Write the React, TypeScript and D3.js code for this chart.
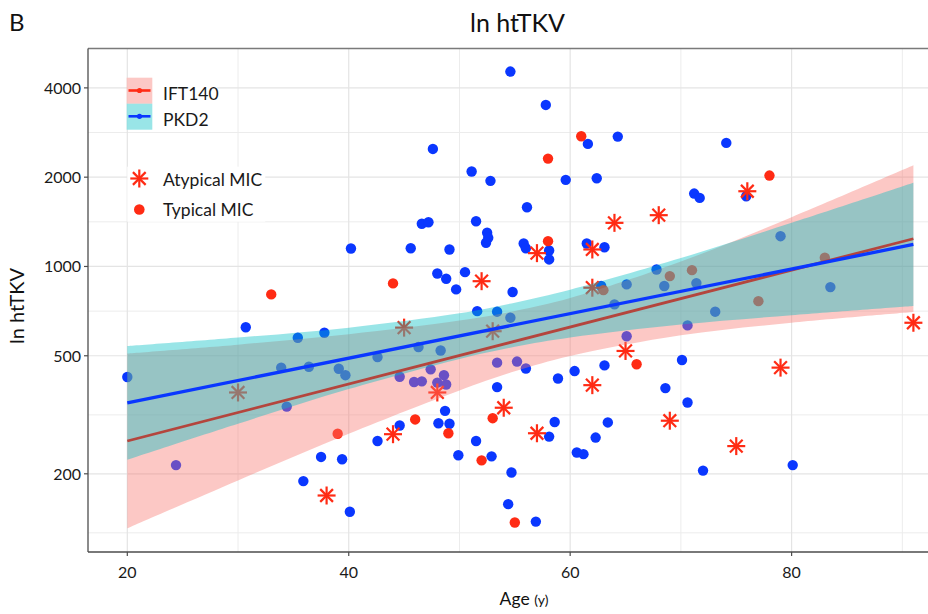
import React from "react";
import * as d3 from "d3";

const W = 928;
const H = 614;

// Axis ticks
const xTicks = [20, 40, 60, 80];
const xMinor = [30, 50, 70, 90];
const yTicks = [200, 500, 1000, 2000, 4000];
const yMinor = [126.5, 316, 707, 1414, 2828];

// PKD2 (blue points)
const pkd2Age = [54.6, 47.6, 51.1, 52.8, 46.6, 47.2, 51.5, 52.5, 52.6, 52.4, 40.2, 45.6, 49.1, 48.0, 48.8, 50.5, 49.7, 57.8, 61.6, 64.3, 74.1, 59.6, 62.4, 71.2, 71.7, 75.9, 56.1, 55.8, 56.0, 58.1, 58.1, 61.5, 63.1, 54.8, 62.8, 65.1, 68.5, 71.4, 67.8, 79.0, 83.5, 53.4, 54.6, 64.0, 73.1, 70.6, 65.1, 53.4, 55.2, 56.0, 70.1, 63.1, 60.4, 58.9, 53.4, 68.6, 70.6, 58.1, 58.6, 63.4, 62.3, 60.6, 61.2, 80.1, 72.0, 52.9, 54.7, 54.4, 56.9, 30.7, 35.4, 37.8, 20.0, 24.4, 33.9, 36.4, 34.4, 39.1, 39.7, 42.6, 46.3, 48.3, 51.6, 47.4, 44.6, 45.9, 46.6, 48.6, 48.0, 48.8, 48.7, 44.6, 48.1, 49.1, 42.6, 37.5, 39.4, 49.9, 51.5, 35.9, 40.1];
const pkd2Val = [4540, 2490, 2090, 1944, 1393, 1410, 1421, 1299, 1249, 1202, 1150, 1152, 1141, 947, 909, 957, 837, 3504, 2589, 2740, 2610, 1959, 1983, 1761, 1703, 1725, 1584, 1195, 1152, 1132, 1056, 1195, 1161, 820, 859, 870, 859, 879, 977, 1265, 852, 704, 672, 745, 704, 633, 582, 474, 478, 453, 484, 464, 444, 419, 392, 389, 348, 267, 299, 298, 265, 236, 233, 214, 205, 229, 202, 158, 138, 624, 575, 598, 424, 214, 456, 459, 337, 452, 430, 495, 535, 521, 707, 450, 425, 408, 410, 430, 406, 400, 326, 291, 296, 295, 258, 228, 224, 231, 258, 189, 149];

// IFT140 typical MIC (red dots)
const typAge = [33.0, 44.0, 61.0, 58.0, 78.0, 58.0, 63.0, 69.0, 71.0, 83.0, 77.0, 66.0, 53.0, 52.0, 55.0, 39.0, 46.0, 49.0];
const typVal = [805, 877, 2747, 2310, 2025, 1217, 832, 928, 972, 1070, 764, 468, 308, 222, 137, 273, 305, 274];

// IFT140 atypical MIC (red asterisks)
const atyAge = [52.0, 76.0, 68.0, 64.0, 57.0, 62.0, 62.0, 53.0, 91.0, 65.0, 79.0, 62.0, 54.0, 57.0, 69.0, 75.0, 30.0, 45.0, 48.0, 44.0, 38.0];
const atyVal = [892, 1793, 1489, 1403, 1109, 1141, 848, 605, 646, 519, 456, 398, 334, 274, 302, 248, 376, 622, 376, 272, 169];

// Fitted lines and confidence bands
const fitAges = [20, 30, 40, 50, 55, 60, 70, 80, 91];
const iftLower = [131, 190, 273, 382, 443, 499, 586, 646, 702];
const iftUpper = [509, 545, 591, 657, 708, 783, 1039, 1466, 2192];
const pkdLower = [223, 295, 386, 488, 536, 576, 637, 685, 736];
const pkdUpper = [539, 576, 622, 695, 755, 835, 1067, 1403, 1915];
const lineAges = [20, 91];
const iftLine = [258, 1240];
const pkdLine = [347, 1186];

const RED = "#ff2b14";
const BLUE = "#0a37ff";
const FONT = "Lato, 'Open Sans', sans-serif";

const L = 88, R = 952.7, T = 48.5, B = 552;

function Asterisk({ cx, cy, r, color }: { cx: number; cy: number; r: number; color: string }) {
  const d = r * Math.SQRT1_2;
  return (
    <g stroke={color} strokeWidth={2.2} strokeLinecap="butt">
      <line x1={cx} y1={cy - r} x2={cx} y2={cy + r} />
      <line x1={cx - r} y1={cy} x2={cx + r} y2={cy} />
      <line x1={cx - d} y1={cy - d} x2={cx + d} y2={cy + d} />
      <line x1={cx - d} y1={cy + d} x2={cx + d} y2={cy - d} />
    </g>
  );
}

export default function App() {
  const x = d3.scaleLinear().domain([16.45, 94.55]).range([L, R]);
  const y = d3.scaleLog().domain([109, 5430]).range([B, T]);

  const band = (lo: number[], hi: number[]) =>
    d3
      .area<number>()
      .x((_, i) => x(fitAges[i]))
      .y0((_, i) => y(lo[i]))
      .y1((_, i) => y(hi[i]))
      .curve(d3.curveCatmullRom)(fitAges.map((_, i) => i)) as string;

  const line = (vals: number[]) =>
    d3
      .line<number>()
      .x((_, i) => x(lineAges[i]))
      .y((d) => y(d))(vals) as string;

  return (
    <svg
      width={W}
      height={H}
      style={{ position: "absolute", left: 0, top: 0, background: "#fff" }}
      fontFamily={FONT}
    >
      <rect x={0} y={0} width={W} height={H} fill="#fff" />
      {/* grid */}
      <g>
        {yMinor.map((v) => (
          <line key={"ym" + v} x1={L} x2={R} y1={y(v)} y2={y(v)} stroke="#ececec" strokeWidth={1} />
        ))}
        {xMinor.map((v) => (
          <line key={"xm" + v} x1={x(v)} x2={x(v)} y1={T} y2={B} stroke="#ececec" strokeWidth={1} />
        ))}
        {yTicks.map((v) => (
          <line key={"yg" + v} x1={L} x2={R} y1={y(v)} y2={y(v)} stroke="#e4e4e4" strokeWidth={1.2} />
        ))}
        {xTicks.map((v) => (
          <line key={"xg" + v} x1={x(v)} x2={x(v)} y1={T} y2={B} stroke="#e4e4e4" strokeWidth={1.2} />
        ))}
      </g>

      {/* legend backgrounds */}
      <rect x={x(20)} y={77.7} width={90} height={52} fill="#fff" />
      <rect x={x(20)} y={166.7} width={138} height={55} fill="#fff" />

      {/* points */}
      <g>
        {pkd2Age.map((a, i) => (
          <circle key={"b" + i} cx={x(a)} cy={y(pkd2Val[i])} r={5.2} fill={BLUE} />
        ))}
        {typAge.map((a, i) => (
          <circle key={"r" + i} cx={x(a)} cy={y(typVal[i])} r={5.2} fill={RED} />
        ))}
        {atyAge.map((a, i) => (
          <Asterisk key={"a" + i} cx={x(a)} cy={y(atyVal[i])} r={9} color={RED} />
        ))}
      </g>

      {/* smooths */}
      <path d={band(iftLower, iftUpper)} fill="#F8766D" fillOpacity={0.4} />
      <path d={band(pkdLower, pkdUpper)} fill="#00BFC4" fillOpacity={0.4} />
      <path d={line(iftLine)} stroke="#b4453d" strokeWidth={2.8} fill="none" />
      <path d={line(pkdLine)} stroke={BLUE} strokeWidth={3.3} fill="none" />

      {/* panel border & axes */}
      <line x1={L} x2={R} y1={T} y2={T} stroke="#7a7a7a" strokeWidth={1.3} />
      <line x1={L} x2={L} y1={T} y2={B} stroke="#4d4d4d" strokeWidth={1.3} />
      <line x1={L} x2={R} y1={B} y2={B} stroke="#4d4d4d" strokeWidth={1.3} />
      {yTicks.map((v) => (
        <g key={"yt" + v}>
          <line x1={L - 4} x2={L} y1={y(v)} y2={y(v)} stroke="#4d4d4d" strokeWidth={1.2} />
          <text x={L - 7} y={y(v)} dy="0.36em" textAnchor="end" fontSize={16} fill="#1a1a1a">
            {v}
          </text>
        </g>
      ))}
      {xTicks.map((v) => (
        <g key={"xt" + v}>
          <line x1={x(v)} x2={x(v)} y1={B} y2={B + 4} stroke="#4d4d4d" strokeWidth={1.2} />
          <text x={x(v)} y={578} textAnchor="middle" fontSize={16} fill="#1a1a1a">
            {v}
          </text>
        </g>
      ))}

      {/* legend 1 */}
      <rect x={126.7} y={77.7} width={25.6} height={26} fill="#F8766D" fillOpacity={0.4} />
      <rect x={126.7} y={103.7} width={25.6} height={26} fill="#00BFC4" fillOpacity={0.4} />
      <line x1={128.5} x2={150.5} y1={90.5} y2={90.5} stroke={RED} strokeWidth={2.6} />
      <circle cx={139.5} cy={90.5} r={2.6} fill={RED} />
      <line x1={128.5} x2={150.5} y1={116.3} y2={116.3} stroke={BLUE} strokeWidth={2.6} />
      <circle cx={139.5} cy={116.3} r={2.6} fill={BLUE} />
      <text x={163} y={100} fontSize={17.5} fill="#1a1a1a">IFT140</text>
      <text x={163} y={126} fontSize={17.5} fill="#1a1a1a">PKD2</text>

      {/* legend 2 */}
      <Asterisk cx={139.3} cy={178.5} r={9} color={RED} />
      <circle cx={139.3} cy={209.5} r={5.3} fill={RED} />
      <text x={163} y={185.5} fontSize={17.5} fill="#1a1a1a">Atypical MIC</text>
      <text x={163} y={216} fontSize={17.5} fill="#1a1a1a">Typical MIC</text>

      {/* titles */}
      <text x={9} y={30.7} fontSize={24} fill="#111">B</text>
      <text x={517.5} y={32.3} textAnchor="middle" fontSize={25} fill="#111">
        ln htTKV
      </text>
      <text transform="translate(23.5,306) rotate(-90)" textAnchor="middle" fontSize={20} fill="#111">
        ln htTKV
      </text>
      <text x={524} y={604.5} textAnchor="middle" fontSize={17.5} fill="#111">
        Age <tspan fontSize={14}>(y)</tspan>
      </text>
    </svg>
  );
}
